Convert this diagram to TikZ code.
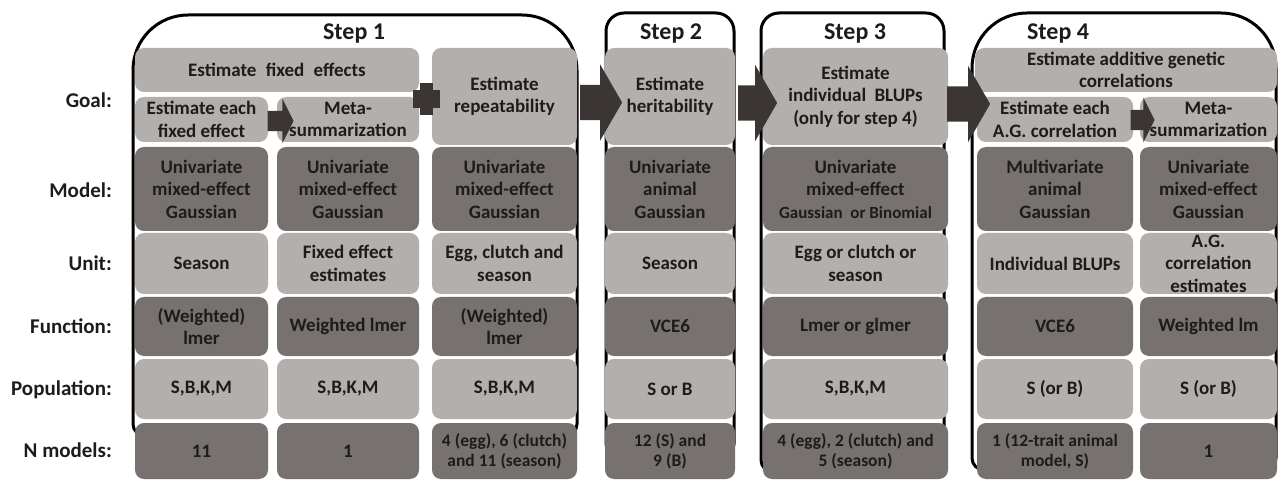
\documentclass[tikz,border=0pt]{standalone}
\usepackage{fontspec}
\setmainfont{Carlito}
\usetikzlibrary{shapes.arrows}

\definecolor{boxlight}{HTML}{B2AFAD}
\definecolor{boxdark}{HTML}{77726F}
\definecolor{arrowdark}{HTML}{3B3634}
\definecolor{inkdark}{HTML}{1C1C1C}

\tikzset{
  cell/.style={rounded corners=9pt, inner sep=0pt, align=center, text=inkdark,
    font=\fontsize{19}{22.5}\selectfont\bfseries},
  lightcell/.style={cell, fill=boxlight},
  darkcell/.style={cell, fill=boxdark},
  small/.style={font=\fontsize{17.5}{20}\selectfont\bfseries},
  rowlabel/.style={anchor=east, inner sep=0pt, text=inkdark,
    font=\fontsize{21}{24}\selectfont\bfseries},
  steplabel/.style={inner sep=0pt, text=inkdark,
    font=\fontsize{24}{28}\selectfont\bfseries},
  stepframe/.style={draw=black, line width=3pt, fill=white},
  bigarrow/.style={single arrow, fill=arrowdark, inner xsep=0pt, inner ysep=17.5pt,
    single arrow head extend=20.5pt, single arrow tip angle=120},
  subarrow/.style={single arrow, fill=arrowdark, inner xsep=0pt, inner ysep=10pt,
    single arrow head extend=12pt, single arrow tip angle=127}
}

\begin{document}
\begin{tikzpicture}[x=1pt,y=-1pt]
  % Canvas
  \fill[white] (0,0) rectangle (1278,481);
  \useasboundingbox (0,0) rectangle (1278,481);

  % Draw step frames (open at the bottom, ends tucked under the last row)
  \draw[stepframe] (150,436) [rounded corners=12pt] -- (133,436) -- (133,300)
    [rounded corners=55pt] -- (133,15) -- (577,15) -- (577,300)
    [rounded corners=12pt] -- (577,436) -- (560,436);
  \draw[stepframe] (625,456) [rounded corners=12pt] -- (606,456) -- (606,300)
    [rounded corners=18pt] -- (606,13) -- (734,13) -- (734,300)
    [rounded corners=12pt] -- (734,456) -- (715,456);
  \draw[stepframe] (780,472) [rounded corners=12pt] -- (761,472) -- (761,300)
    [rounded corners=18pt] -- (761,13) -- (944,13) -- (944,300)
    [rounded corners=12pt] -- (944,472) -- (925,472);
  \draw[stepframe] (990,470) [rounded corners=12pt] -- (972,470) -- (972,300)
    [rounded corners=55pt] -- (972,13) -- (1276,13) -- (1276,300)
    [rounded corners=12pt] -- (1276,470) -- (1260,470);

  % Step titles
  \node[steplabel] (s1) at (354,34) {Step 1};
  \node[steplabel] (s2) at (671,34) {Step 2};
  \node[steplabel] (s3) at (855,34) {Step 3};
  \node[steplabel] (s4) at (1058,34) {Step 4};

  % Goal row
  \node[lightcell, minimum width=284pt, minimum height=44pt] (gtop1) at (277,70)
    {Estimate\hspace{5pt} fixed\hspace{5pt} effects};
  \node[lightcell, minimum width=302pt, minimum height=44pt] (gtop4) at (1126,70)
    {Estimate additive genetic\\correlations};
  \foreach \n/\x/\w/\t in {g1/201.5/133/{Estimate each\\fixed effect},
      g2/348/142/{Meta-\\summarization},
      g6/1055/156/{Estimate each\\A.G. correlation},
      g7/1208.5/137/{Meta-\\summarization}} {
    \node[lightcell, minimum width=\w pt, minimum height=45pt] (\n) at (\x,119.5) {\t};
  }
  \foreach \n/\x/\w/\t in {g3/504.5/145/{Estimate\\repeatability},
      g4/670/130/{Estimate\\heritability},
      g5/855.5/185/{Estimate\\individual\hspace{4pt} BLUPs\\(only for step 4)}} {
    \node[lightcell, minimum width=\w pt, minimum height=97pt] (\n) at (\x,96.5) {\t};
  }

  % Model row
  \foreach \n/\x/\w/\t in {m1/201.5/133/{Univariate\\mixed-effect\\Gaussian},
      m2/348/142/{Univariate\\mixed-effect\\Gaussian},
      m3/504.5/145/{Univariate\\mixed-effect\\Gaussian},
      m4/670/130/{Univariate\\animal\\Gaussian},
      m5/855.5/185/{Univariate\\mixed-effect\\{\fontsize{17}{20}\selectfont Gaussian\ \ or Binomial}},
      m6/1055/156/{Multivariate\\animal\\Gaussian},
      m7/1208.5/137/{Univariate\\mixed-effect\\Gaussian}} {
    \node[darkcell, minimum width=\w pt, minimum height=84pt] (\n) at (\x,189) {\t};
  }

  % Unit row
  \foreach \n/\x/\w/\t in {u1/201.5/133/{Season},
      u2/348/142/{Fixed effect\\estimates},
      u3/504.5/145/{Egg, clutch and\\season},
      u4/670/130/{Season},
      u5/855.5/185/{Egg or clutch or\\season},
      u6/1055/156/{Individual BLUPs},
      u7/1208.5/137/{A.G.\\correlation\\estimates}} {
    \node[lightcell, minimum width=\w pt, minimum height=61pt] (\n) at (\x,263.5) {\t};
  }

  % Function row
  \foreach \n/\x/\w/\t in {f1/201.5/133/{(Weighted)\\lmer},
      f2/348/142/{Weighted lmer},
      f3/504.5/145/{(Weighted)\\lmer},
      f4/670/130/{VCE6},
      f5/855.5/185/{Lmer or glmer},
      f6/1055/156/{VCE6},
      f7/1208.5/137/{Weighted lm}} {
    \node[darkcell, minimum width=\w pt, minimum height=59pt] (\n) at (\x,326.5) {\t};
  }

  % Population row
  \foreach \n/\x/\w/\t in {p1/201.5/133/{S,B,K,M},
      p2/348/142/{S,B,K,M},
      p3/504.5/145/{S,B,K,M},
      p4/670/130/{S or B},
      p5/855.5/185/{S,B,K,M},
      p6/1055/156/{S (or B)},
      p7/1208.5/137/{S (or B)}} {
    \node[lightcell, minimum width=\w pt, minimum height=60pt] (\n) at (\x,389) {\t};
  }

  % N models row
  \foreach \n/\x/\w/\t in {n1/201.5/133/{11},
      n2/348/142/{1},
      n7/1208.5/137/{1}} {
    \node[darkcell, minimum width=\w pt, minimum height=56pt] (\n) at (\x,451) {\t};
  }
  \foreach \n/\x/\w/\t in {n3/504.5/145/{4 (egg), 6 (clutch)\\and 11 (season)},
      n4/670/130/{12 (S) and\\9 (B)},
      n5/855.5/185/{4 (egg), 2 (clutch) and\\5 (season)},
      n6/1055/156/{1 (12-trait animal\\model, S)}} {
    \node[darkcell, small, minimum width=\w pt, minimum height=56pt] (\n) at (\x,451) {\t};
  }

  % Arrows between steps
  \node[bigarrow, minimum height=42pt] (a12) at (596,102.5) {};
  \node[bigarrow, minimum height=39pt] (a23) at (752.5,103) {};
  \node[bigarrow, minimum height=43pt] (a34) at (963.5,104) {};
  \node[subarrow, minimum height=26pt] (a1sub) at (278,121) {};
  \node[subarrow, minimum height=24pt] (a4sub) at (1140,120) {};
  % small joint between fixed effects and repeatability
  \fill[arrowdark] (420,83) rectangle (433,115);
  \fill[arrowdark] (413,90) rectangle (440,108);

  % Row labels
  \node[rowlabel] (lgoal) at (112,100) {Goal:};
  \node[rowlabel] (lmodel) at (112,190) {Model:};
  \node[rowlabel] (lunit) at (112,263) {Unit:};
  \node[rowlabel] (lfun) at (112,326) {Function:};
  \node[rowlabel] (lpop) at (112,390) {Population:};
  \node[rowlabel] (lnmod) at (112,450) {N models:};
\end{tikzpicture}
\end{document}
